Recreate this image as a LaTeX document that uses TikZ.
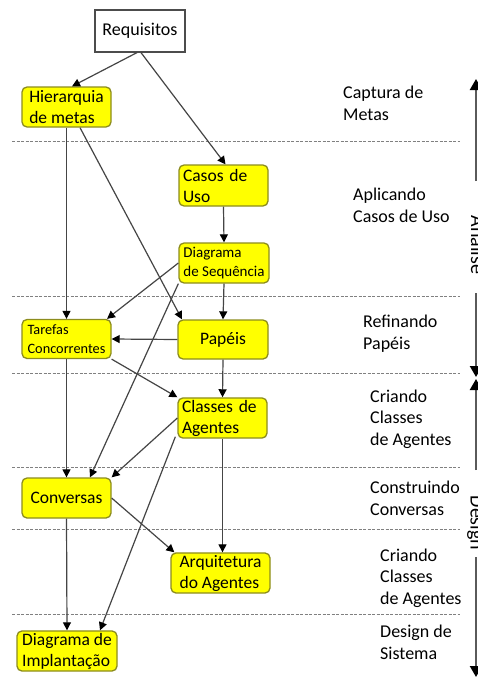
\documentclass[tikz,border=0pt]{standalone}
\usepackage{fontspec}
\setmainfont{Carlito}
\usetikzlibrary{arrows.meta}
\definecolor{boxfill}{HTML}{FFFF00}
\definecolor{boxline}{HTML}{8C8C1E}
\definecolor{edgecol}{HTML}{454545}
\definecolor{dashcol}{HTML}{808080}
\definecolor{sidecol}{HTML}{5A5A5A}
\begin{document}
\begin{tikzpicture}[x=1pt,y=-1pt,
  ybox/.style={draw=boxline, fill=boxfill, line width=1.3pt, rounded corners=5pt,
    inner sep=2pt, align=left, font=\fontsize{17.5}{21}\selectfont},
  conn/.style={draw=edgecol, line width=1.2pt, -{Triangle[length=8pt,width=8pt,color=black]}},
  sep/.style={draw=dashcol, line width=1pt, dash pattern=on 3pt off 1.5pt},
  lbl/.style={anchor=base west, inner sep=0pt, align=left, font=\fontsize{18}{21.5}\selectfont},
  side/.style={draw=sidecol, line width=2.2pt, -{Triangle[length=11pt,width=12pt,color=black]}},
  sidetxt/.style={rotate=-90, anchor=base, inner sep=0pt, font=\fontsize{20}{24}\selectfont}]
\useasboundingbox (0,0) rectangle (478,677);
\fill[white] (0,0) rectangle (478,677);

% separators
\foreach \yy in {141,296,373,467,529,614}
  \draw[sep] (12,\yy) -- (460,\yy);

% boxes
\node[draw=black!70, line width=1.2pt, fill=white, minimum width=90pt, minimum height=42pt,
  font=\fontsize{18}{22}\selectfont] (req) at (140,31) {Requisitos};
\node[ybox, minimum width=89pt, minimum height=40pt] (hier) at (66.5,107) {Hierarquia\\de metas};
\node[ybox, inner xsep=4pt, text width=81pt, minimum height=41pt] (casos) at (223.5,185.5) {Casos de\\Uso};
\node[ybox, minimum width=90pt, minimum height=40pt, font=\fontsize{15}{18.5}\selectfont] (dseq) at (224,263) {Diagrama\\de Sequência};
\node[ybox, minimum width=89pt, minimum height=39pt, font=\fontsize{14.3}{19}\selectfont] (tar) at (66.5,339) {Tarefas\\Concorrentes};
\node[ybox, minimum width=90pt, minimum height=39pt] (pap) at (223,339.5) {Papéis};
\node[ybox, inner xsep=4pt, text width=81pt, minimum height=40pt] (cls) at (222.5,418) {Classes de\\Agentes};
\node[ybox, minimum width=89pt, minimum height=40pt] (conv) at (66.5,498) {Conversas};
\node[ybox, minimum width=99pt, minimum height=40pt] (arq) at (220.5,573) {Arquitetura\\do Agentes};
\node[ybox, minimum width=100pt, minimum height=40pt] (dimp) at (67,651) {Diagrama de\\Implantação};

% connectors
\draw[conn] ([xshift=-3pt]req.south) -- ([xshift=5.5pt]hier.north);
\draw[conn] ([xshift=1pt]req.south) -- ([xshift=2pt]casos.north);
\draw[conn] (hier.south) -- (tar.north);
\draw[conn] ([xshift=13.5pt]hier.south) -- ([xshift=-41pt]pap.north);
\draw[conn] (casos.south) -- (dseq.north);
\draw[conn] (dseq.west) -- ([xshift=40.5pt]tar.north);
\draw[conn] (dseq.south west) -- ([xshift=23.5pt]conv.north);
\draw[conn] (dseq.south) -- (pap.north);
\draw[conn] (pap.west) -- (tar.east);
\draw[conn] (tar.south east) -- (cls.north west);
\draw[conn] (pap.south) -- (cls.north);
\draw[conn] (tar.south) -- (conv.north);
\draw[conn] (cls.west) -- (conv.north east);
\draw[conn] ([xshift=-2pt,yshift=2pt]cls.south west) -- ([xshift=33pt]dimp.north);
\draw[conn] (cls.south) -- (cls.south |- arq.north);
\draw[conn] (conv.east) -- ([xshift=4pt]arq.north west);
\draw[conn] (conv.south) -- (dimp.north);

% stage labels (anchor = baseline of last line)
\node[lbl] (l1) at (343,120) {Captura de\\Metas};
\node[lbl] (l2) at (353,222) {Aplicando\\Casos de Uso};
\node[lbl] (l3) at (363,349) {Refinando\\Papéis};
\node[lbl] (l4) at (370,445) {Criando\\Classes\\de Agentes};
\node[lbl] (l5) at (370,515) {Construindo\\Conversas};
\node[lbl] (l6) at (380,604) {Criando\\Classes\\de Agentes};
\node[lbl] (l7) at (380,659) {Design de\\Sistema};

% side arrows
\coordinate (a1) at (476,181);
\coordinate (a0) at (476,79);
\coordinate (a2) at (476,293);
\coordinate (a3) at (476,377);
\coordinate (d1) at (476,470);
\coordinate (d0) at (476,379);
\coordinate (d2) at (476,557);
\coordinate (d3) at (476,677);
\draw[side] (a1) -- (a0);
\draw[side] (a2) -- (a3);
\draw[side] (d1) -- (d0);
\draw[side] (d2) -- (d3);
\node[sidetxt] (an) at (471,245) {Análise};
\node[sidetxt] (de) at (470.5,523) {Design};
\end{tikzpicture}
\end{document}
